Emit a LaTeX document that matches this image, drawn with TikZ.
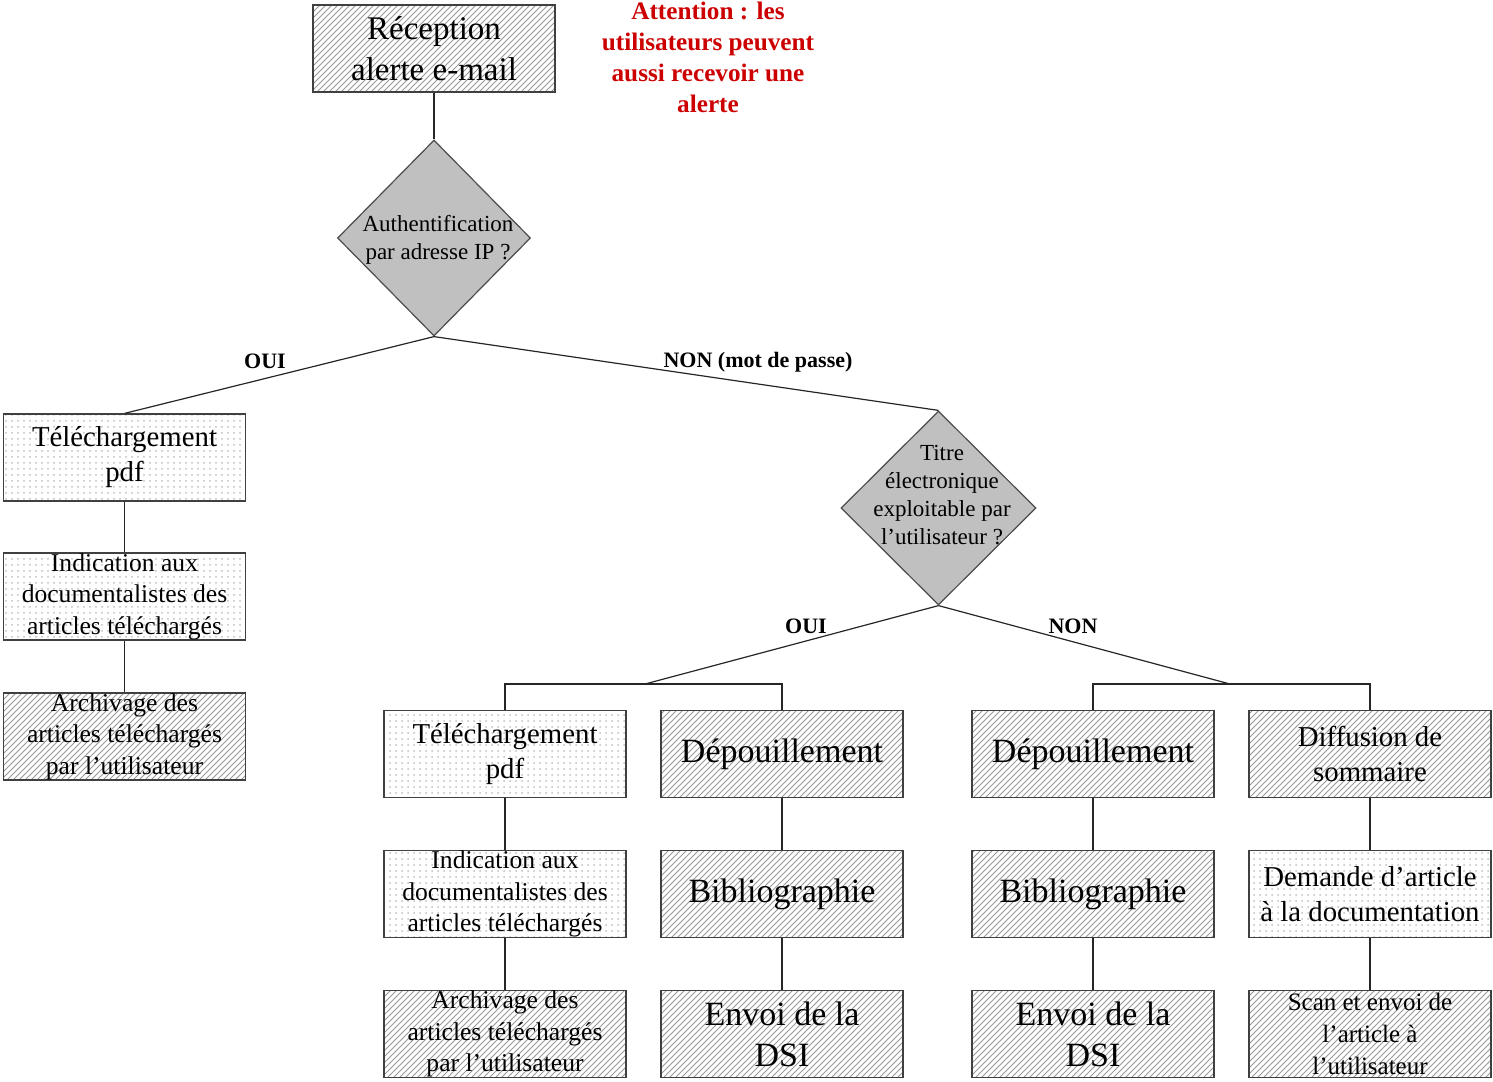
\documentclass[tikz,border=0pt]{standalone}
\usepackage{fontspec}
\setmainfont{Liberation Serif}
\usetikzlibrary{shapes.geometric,patterns}
\definecolor{alertred}{HTML}{CC0000}
\definecolor{diamondgray}{HTML}{C0C0C0}
\begin{document}
\begin{tikzpicture}[x=0.5pt,y=-0.5pt,
  boxbase/.style={draw=black!75, line width=0.6pt, minimum width=121pt, minimum height=43.5pt, inner sep=0pt, align=center},
  hatchbox/.style={boxbase, pattern=north east lines, pattern color=black!40},
  dotbox/.style={boxbase, pattern=dots, pattern color=black!25},
  decision/.style={diamond, draw=black!70, line width=0.6pt, fill=diamondgray, inner sep=0pt},
  fbig/.style={font=\fontsize{17}{20.5}\selectfont},
  fmed/.style={font=\fontsize{14.4}{17.5}\selectfont},
  fsmall/.style={font=\fontsize{12.8}{15.8}\selectfont},
  fdia/.style={font=\fontsize{11.5}{14}\selectfont, align=center},
  branch/.style={font=\bfseries\fontsize{11}{13}\selectfont},
  link/.style={draw=black!85, line width=0.6pt}
]
\useasboundingbox (0,0) rectangle (1493,1081);

% top
\node[hatchbox, font=\fontsize{16.5}{20.5}\selectfont] (rec) at (434,48.5) {Réception\\alerte e-mail};
\node[text=alertred, font=\bfseries\fontsize{12.6}{15.5}\selectfont, align=center] (att) at (708,57)
  {Attention : les\\utilisateurs peuvent\\aussi recevoir une\\alerte};

% first decision
\node[decision, minimum width=96.5pt, minimum height=98pt] (d1) at (434,238) {};
\node[fdia] (d1t) at (438,240) {Authentification\\par adresse IP ?};

% left column
\node[dotbox, fmed] (tl1) at (124.5,457.5) {Téléchargement\\pdf};
\node[dotbox, fsmall] (il1) at (124.5,596.5) {Indication aux\\documentalistes des\\articles téléchargés};
\node[hatchbox, fsmall] (al1) at (124.5,736.5) {Archivage des\\articles téléchargés\\par l’utilisateur};

% second decision
\node[decision, minimum width=97.5pt, minimum height=97pt] (d2) at (938.5,508) {};
\node[fdia] (d2t) at (942,495) {Titre\\électronique\\exploitable par\\l’utilisateur ?};

% column 1
\node[dotbox, fmed] (tl2) at (505,754) {Téléchargement\\pdf};
\node[dotbox, fsmall] (il2) at (505,894) {Indication aux\\documentalistes des\\articles téléchargés};
\node[hatchbox, fsmall] (al2) at (505,1034) {Archivage des\\articles téléchargés\\par l’utilisateur};
% column 2
\node[hatchbox, fbig] (dep1) at (782,754) {Dépouillement};
\node[hatchbox, fbig] (bib1) at (782,894) {Bibliographie};
\node[hatchbox, fbig] (env1) at (782,1034) {Envoi de la\\DSI};
% column 3
\node[hatchbox, fbig] (dep2) at (1093,754) {Dépouillement};
\node[hatchbox, fbig] (bib2) at (1093,894) {Bibliographie};
\node[hatchbox, fbig] (env2) at (1093,1034) {Envoi de la\\DSI};
% column 4
\node[hatchbox, fmed] (dif) at (1370,754) {Diffusion de\\sommaire};
\node[dotbox, fmed] (dem) at (1370,894) {Demande d’article\\à la documentation};
\node[hatchbox, font=\fontsize{12.5}{16}\selectfont] (scan) at (1370,1034) {Scan et envoi de\\l’article à\\l’utilisateur};

% branch labels
\node[branch] (oui1) at (265,361) {OUI};
\node[branch] (non1) at (758,362) {NON (mot de passe)};
\node[branch] (oui2) at (806,626) {OUI};
\node[branch] (non2) at (1073,626) {NON};

% connectors
\coordinate (j1) at (645,684);
\coordinate (j2) at (1230,684);
\draw[link] (rec.south) -- (d1.north);
\draw[link] (d1.south) -- (tl1.north);
\draw[link] (d1.south) -- (d2.north);
\draw[link] (tl1) -- (il1);
\draw[link] (il1) -- (al1);
\draw[link] (d2.south) -- (j1);
\draw[link] (d2.south) -- (j2);
\draw[link] (tl2.north) -- (tl2.north |- j1) -- (dep1.north |- j1) -- (dep1.north);
\draw[link] (dep2.north) -- (dep2.north |- j2) -- (dif.north |- j2) -- (dif.north);
\draw[link] (tl2) -- (il2);
\draw[link] (il2) -- (al2);
\draw[link] (dep1) -- (bib1);
\draw[link] (bib1) -- (env1);
\draw[link] (dep2) -- (bib2);
\draw[link] (bib2) -- (env2);
\draw[link] (dif) -- (dem);
\draw[link] (dem) -- (scan);
\end{tikzpicture}
\end{document}
